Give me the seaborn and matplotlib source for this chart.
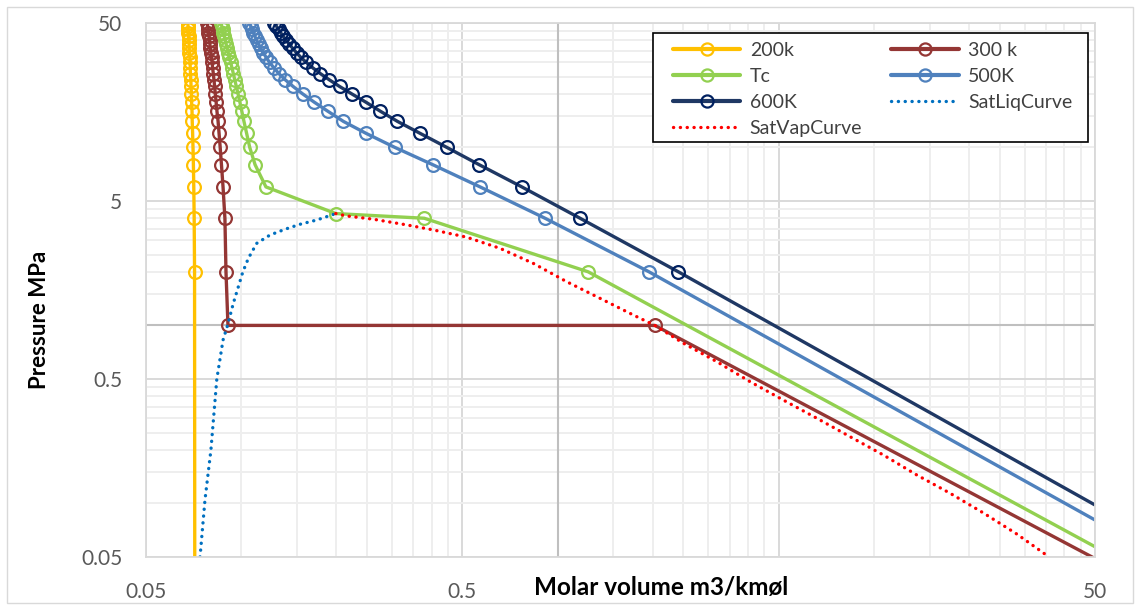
import matplotlib
matplotlib.use("Agg")
import matplotlib.pyplot as plt
import seaborn as sns
import pandas as pd
from matplotlib.ticker import FixedLocator, FixedFormatter, NullFormatter
from matplotlib.lines import Line2D
from matplotlib.patches import Rectangle

# ---------------- data ----------------
# pressures (MPa) of the marked points, ascending
pressures = [2, 4, 6, 8, 10, 12, 14, 16, 18, 20, 22, 24, 26, 28, 30,
             32, 34, 36, 38, 40, 42, 44, 46, 48, 50]

# 200 K isotherm (liquid), molar volume m3/kmol at each pressure
v_200 = [0.0712, 0.0710, 0.0708, 0.0706, 0.0704, 0.0702, 0.0700, 0.0699, 0.0697,
         0.0696, 0.0694, 0.0693, 0.0691, 0.0690, 0.0689, 0.0688, 0.0686, 0.0685,
         0.0684, 0.0683, 0.0682, 0.0681, 0.0680, 0.0679, 0.0678]
end_200 = (0.0713, 0.05)          # (V, P) where the line leaves the plot

# 300 K isotherm
v_300 = [0.0895, 0.0888, 0.0876, 0.0866, 0.0858, 0.0851, 0.0845, 0.0838, 0.0833,
         0.0828, 0.0824, 0.0820, 0.0816, 0.0812, 0.0809, 0.0806, 0.0802, 0.0799,
         0.0796, 0.0794, 0.0791, 0.0788, 0.0786, 0.0783, 0.0781]
sat_300_liq = (0.0908, 1.0)
sat_300_vap = (2.03, 1.0)
end_300 = (50, 0.049)

# critical isotherm (Tc)
tc_p = [2, 4, 4.25, 6, 8, 10, 12, 14, 16, 18, 20, 22, 24, 26, 28, 30,
        32, 34, 36, 38, 40, 42, 44, 46, 48, 50]
tc_v = [1.25, 0.379, 0.199, 0.1197, 0.1106, 0.1064, 0.1040, 0.1020, 0.1004, 0.0990,
        0.0977, 0.0965, 0.0954, 0.0944, 0.0935, 0.0926, 0.0918, 0.0910, 0.0903,
        0.0896, 0.0890, 0.0884, 0.0878, 0.0873, 0.0868, 0.0863]
end_tc = (50, 0.0571)

# 500 K isotherm
v_500 = [1.946, 0.913, 0.569, 0.403, 0.306, 0.248, 0.2104, 0.1875, 0.1698, 0.1563,
         0.1459, 0.1377, 0.1315, 0.1268, 0.1230, 0.1199, 0.1175, 0.1153, 0.1135,
         0.1119, 0.1105, 0.1093, 0.1081, 0.1072, 0.1062]
end_500 = (50, 0.0807)

# 600 K isotherm
v_600 = [2.41, 1.178, 0.771, 0.565, 0.4467, 0.3675, 0.3119, 0.2748, 0.2472, 0.2234,
         0.2046, 0.1897, 0.1778, 0.1683, 0.1607, 0.1545, 0.1496, 0.1455, 0.1419,
         0.1387, 0.1358, 0.1334, 0.1312, 0.1292, 0.1274]
end_600 = (50, 0.098)

# saturated liquid curve
satliq_v = [0.0741, 0.0768, 0.0802, 0.0837, 0.0876, 0.0905, 0.0944, 0.1011, 0.1053,
            0.1119, 0.1233, 0.1376, 0.1534, 0.1733, 0.1930, 0.199]
satliq_p = [0.05, 0.1045, 0.1995, 0.498, 0.828, 1.0, 1.33, 1.99, 2.38,
            2.89, 3.22, 3.47, 3.70, 3.91, 4.17, 4.25]

# saturated vapour curve
satvap_v = [0.199, 0.2156, 0.2616, 0.3336, 0.4048, 0.5163, 0.658, 0.8385, 1.069, 1.362,
            1.736, 2.03, 2.50, 3.19, 4.06, 5.17, 6.60, 8.41, 10.72, 13.67, 17.42,
            22.19, 28.3, 35.8]
satvap_p = [4.25, 4.12, 3.95, 3.67, 3.44, 3.13, 2.71, 2.23, 1.76, 1.42,
            1.144, 1.0, 0.794, 0.625, 0.483, 0.381, 0.301, 0.237, 0.187, 0.1444, 0.114,
            0.0884, 0.0673, 0.05]

labels = ["200k", "300 k", "Tc", "500K", "600K", "SatLiqCurve", "SatVapCurve"]
tick_vals = [0.05, 0.5, 5, 50]
y_tick_labels = ["0.05", "0.5", "5", "50"]
x_tick_labels = ["0.05", "0.5", "", "50"]

# ---------------- styling ----------------
sns.set_theme(style="white")
plt.rcParams["font.family"] = ["Lato", "DejaVu Sans"]

W, H = 1140, 610
fig = plt.figure(figsize=(W / 100, H / 100), dpi=100)
ax = fig.add_axes([146 / W, 1 - 557 / H, (1095 - 146) / W, (557 - 23) / H])
ax.set_xscale("log")
ax.set_yscale("log")

c200, c300, ctc, c500, c600 = "#FFC000", "#943634", "#92D050", "#4F81BD", "#1F3864"
m600 = "#002060"
cliq, cvap = "#0070C0", "#FF0000"
LW = 2.4
MS = 9.2
MEW = 1.6
dot = (0, (0.05, 2.0))


def draw(vs, ps, color, mcolor=None, mark_n=None, dotted=False):
    df = pd.DataFrame({"V": vs, "P": ps})
    kw = dict(data=df, x="V", y="P", sort=False, estimator=None, ax=ax,
              color=color, linewidth=LW, legend=False)
    if dotted:
        kw.update(linestyle=dot, dash_capstyle="round")
    else:
        kw.update(marker="o", markersize=MS, markerfacecolor="none",
                  markeredgecolor=mcolor or color, markeredgewidth=MEW,
                  markevery=list(range(mark_n)), solid_capstyle="butt")
    sns.lineplot(**kw)


# 200 K: highest pressure first, then down to end
vs = v_200[::-1] + [end_200[0]]
ps = pressures[::-1] + [end_200[1]]
draw(vs, ps, c200, mark_n=len(v_200))

vs = v_300[::-1] + [sat_300_liq[0], sat_300_vap[0], end_300[0]]
ps = pressures[::-1] + [sat_300_liq[1], sat_300_vap[1], end_300[1]]
draw(vs, ps, c300, mark_n=len(v_300) + 2)

vs = tc_v[::-1] + [end_tc[0]]
ps = tc_p[::-1] + [end_tc[1]]
draw(vs, ps, ctc, mark_n=len(tc_v))

vs = v_500[::-1] + [end_500[0]]
ps = pressures[::-1] + [end_500[1]]
draw(vs, ps, c500, mark_n=len(v_500))

vs = v_600[::-1] + [end_600[0]]
ps = pressures[::-1] + [end_600[1]]
draw(vs, ps, c600, mcolor=m600, mark_n=len(v_600))

draw(satliq_v, satliq_p, cliq, dotted=True)
draw(satvap_v, satvap_p, cvap, dotted=True)

# axes, grid
ax.set_xlim(0.05, 50)
ax.set_ylim(0.05, 50)
minors = [b * k for b in (0.05, 0.5, 5) for k in range(2, 10)]
for axis, lab in ((ax.xaxis, x_tick_labels), (ax.yaxis, y_tick_labels)):
    axis.set_major_locator(FixedLocator(tick_vals))
    axis.set_major_formatter(FixedFormatter(lab))
    axis.set_minor_locator(FixedLocator(minors))
    axis.set_minor_formatter(NullFormatter())
ax.grid(which="minor", color="#EEEEEE", linewidth=1.4)
ax.grid(which="major", color="#D9D9D9", linewidth=1.4)
ax.set_axisbelow(True)
ax.axhline(1.0, color="#BFBFBF", linewidth=1.5, zorder=1.5)
ax.axvline(1.0, color="#BFBFBF", linewidth=1.5, zorder=1.5)
for s in ax.spines.values():
    s.set_color("#D9D9D9")
    s.set_linewidth(1.3)
ax.tick_params(which="both", length=0, labelsize=15, colors="#595959")
ax.tick_params(axis="y", pad=17)
ax.tick_params(axis="x", pad=18)
ax.set_xlabel("")
ax.set_ylabel("")

fig.text(661 / W, 1 - 588 / H, "Molar volume m3/kmøl", ha="center", va="center",
         fontsize=17.5, fontweight="bold", color="black")
fig.text(40 / W, 1 - 320 / H, "Pressure MPa", ha="center", va="center",
         rotation=90, fontsize=16, fontweight="bold", color="black")

# legend
def h(color, mcolor=None, dotted=False):
    if dotted:
        return Line2D([], [], color=color, linewidth=LW, linestyle=dot,
                      dash_capstyle="round")
    return Line2D([], [], color=color, linewidth=LW * 1.25, marker="o",
                  markersize=MS * 0.95, markerfacecolor="none",
                  markeredgecolor=mcolor or color, markeredgewidth=MEW)

handles = [h(c200), h(ctc), h(c600, m600), h(cvap, dotted=True),
           h(c300), h(c500), h(cliq, dotted=True)]
labs = [labels[0], labels[2], labels[4], labels[6], labels[1], labels[3], labels[5]]
fig.patches.append(Rectangle((653 / W, 1 - 142 / H), (1088 - 653) / W, (142 - 33) / H,
                             transform=fig.transFigure, facecolor="white",
                             edgecolor="black", linewidth=1.2, zorder=4))
leg = fig.legend(handles, labs, ncol=2, loc="upper left",
                 bbox_to_anchor=(673 / W, 1 - 41.5 / H), frameon=False,
                 fontsize=14, handlelength=3.45, handletextpad=0.5,
                 columnspacing=1.5, labelspacing=0.47, borderpad=0,
                 borderaxespad=0, numpoints=1)
leg.set_zorder(5)
for t in leg.get_texts():
    t.set_color("#404040")

fig.patches.append(Rectangle((7 / W, 7 / H), (W - 14) / W, (H - 14) / H,
                             transform=fig.transFigure, fill=False,
                             edgecolor="#D9D9D9", linewidth=1.0, zorder=0))

fig.savefig("out.png", dpi=100)
